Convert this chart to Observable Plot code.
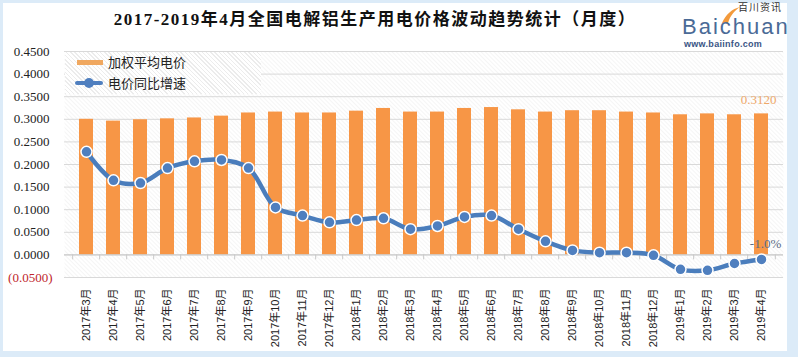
<!DOCTYPE html>
<html>
<head>
<meta charset="utf-8">
<script src="https://cdn.jsdelivr.net/npm/d3@7"></script>
<script src="https://cdn.jsdelivr.net/npm/@observablehq/plot@0.6"></script>
<style>
  html, body { margin: 0; padding: 0; }
  #wrap { position: relative; width: 798px; height: 357px; background: #dcebf8; overflow: hidden; }
  #panel { position: absolute; left: 3px; top: 3px; width: 784px; height: 348px; background: #fff; }
  #chart { position: absolute; left: 0; top: 0; }
  #title { position: absolute; left: 0; width: 750px; top: 8px; text-align: center;
           font-family: "Liberation Serif", "Noto Sans CJK SC", serif; font-weight: bold;
           font-size: 17px; letter-spacing: 1.5px; line-height: 24px; color: #111; }
  #legend { position: absolute; left: 65px; top: 52px; width: 196px; height: 42px;
            background: repeating-linear-gradient(45deg, #ececec 0 1px, #fff 1px 3px);
            font-family: "Noto Sans CJK SC", sans-serif; font-size: 13px; color: #222; }
  .row { position: absolute; left: 10px; height: 20px; line-height: 20px; display: flex; align-items: center; }
  .sw { position: relative; width: 28px; height: 20px; margin-right: 5px; }
  .sw .bar { position: absolute; left: 2px; right: 0; top: 8px; height: 5px; background: #f0a860; }
  .sw .ln { position: absolute; left: 0; right: 0; top: 8px; height: 4px; background: #4f7fbf; border-radius: 2px; }
  .sw .dt { position: absolute; left: 9px; top: 5px; width: 10px; height: 10px; border-radius: 50%; background: #4f7fbf; }
  #logo { position: absolute; left: 680px; top: 0; width: 118px; height: 50px; }
  #logo .cn { position: absolute; left: 58px; top: 0px; line-height: 14.5px; font-family: "Noto Sans CJK SC", sans-serif; font-size: 10px; color: #333; letter-spacing: 1px; }
  #logo .en { position: absolute; left: 2px; top: 14.5px; line-height: 24.5px; font-family: "Liberation Sans", sans-serif; font-size: 22px; letter-spacing: 2px; color: #4a6a96; }
  #logo .url { position: absolute; left: 4px; top: 39px; line-height: 10px; font-family: "Liberation Sans", sans-serif; font-weight: bold; font-size: 9px; letter-spacing: 0.3px; color: #3a5585; }
  #logo svg { position: absolute; left: 0; top: 0; }
</style>
</head>
<body>
<div id="wrap">
  <div id="panel"></div>
  <div id="chart"></div>
  <div id="title"></div>
  <div id="legend"></div>
  <div id="logo">
    <svg width="118" height="50"><path d="M42,23 C46,14 52,9 60,7 C54,11 50,16 48,23 Z" fill="#f39a3c"/></svg>
    <div class="cn">百川资讯</div>
    <div class="en">Baichuan</div>
    <div class="url">www.baiinfo.com</div>
  </div>
</div>
<script>
const titleText = "2017-2019年4月全国电解铝生产用电价格波动趋势统计（月度）";
const months = ["2017年3月","2017年4月","2017年5月","2017年6月","2017年7月","2017年8月","2017年9月","2017年10月","2017年11月","2017年12月",
  "2018年1月","2018年2月","2018年3月","2018年4月","2018年5月","2018年6月","2018年7月","2018年8月","2018年9月","2018年10月","2018年11月","2018年12月",
  "2019年1月","2019年2月","2019年3月","2019年4月"];
const price = [0.300,0.296,0.299,0.301,0.303,0.307,0.314,0.316,0.314,0.314,0.318,0.324,0.316,0.316,0.324,0.326,0.321,0.316,0.319,0.319,0.316,0.314,0.310,0.312,0.310,0.312];
const growth = [0.228,0.165,0.159,0.192,0.207,0.210,0.192,0.105,0.087,0.072,0.077,0.081,0.057,0.064,0.084,0.087,0.057,0.030,0.010,0.005,0.005,-0.001,-0.032,-0.034,-0.019,-0.010];
const yTicks = [-0.05,0,0.05,0.10,0.15,0.20,0.25,0.30,0.35,0.40,0.45];
const seriesNames = ["加权平均电价","电价同比增速"];
const lastPriceLabel = "0.3120";
const lastGrowthLabel = "-1.0%";

document.getElementById("title").textContent = titleText;
document.getElementById("legend").innerHTML =
  `<div class="row" style="top:0px"><div class="sw"><div class="bar"></div></div>${seriesNames[0]}</div>` +
  `<div class="row" style="top:21px"><div class="sw"><div class="ln"></div><div class="dt"></div></div>${seriesNames[1]}</div>`;

const data = months.map((m, i) => ({month: m, price: price[i], growth: growth[i]}));
const W = 798, H = 357, ML = 64, MR = 15, MT = 51, MB = 80;
const half = (W - ML - MR) / months.length / 2;
const last = data[data.length - 1];
const fmt4 = d3.format(".4f");
const serif = "Liberation Serif, serif";
const sans = "Liberation Sans, Noto Sans CJK SC, sans-serif";

const svg = Plot.plot({
  width: W, height: H,
  marginLeft: ML, marginRight: MR, marginTop: MT, marginBottom: MB,
  style: {background: "transparent", overflow: "visible"},
  x: {type: "band", domain: months, paddingInner: 0.49, paddingOuter: 0.245, axis: null},
  y: {domain: [-0.05, 0.45], axis: null},
  marks: [
    Plot.frame({fill: "url(#hatch)"}),
    Plot.gridY(yTicks, {stroke: "#d9d9d9", strokeOpacity: 1, strokeWidth: 1}),
    Plot.barY(data, {x: "month", y: "price", fill: "#f79646"}),
    Plot.ruleY([0], {stroke: "#c8c8c8", strokeWidth: 1}),
    Plot.ruleX(months, {x: d => d, y1: 0, y2: -0.011, dx: -half, stroke: "#c8c8c8"}),
    Plot.ruleX([months[months.length - 1]], {x: d => d, y1: 0, y2: -0.011, dx: half, stroke: "#c8c8c8"}),
    Plot.line(data, {x: "month", y: "growth", curve: "catmull-rom", stroke: "#4a7dbc", strokeWidth: 4.5}),
    Plot.dot(data, {x: "month", y: "growth", r: 5.5, fill: "#4f7fbf", stroke: "#fff", strokeWidth: 1.5}),
    Plot.text([last], {x: "month", y: "price", text: () => lastPriceLabel, dy: -14, dx: -3, fill: "#eea869", fontFamily: serif, fontSize: 13}),
    Plot.text([last], {x: "month", y: "growth", text: () => lastGrowthLabel, dy: -16, dx: 4, fill: "#5b6c86", fontFamily: serif, fontSize: 13}),
    Plot.axisX({tickSize: 0, tickRotate: -90, tickPadding: 11, fontSize: 11, fontFamily: sans, fill: "#222", label: null}),
    Plot.axisY(yTicks.filter(d => d >= 0), {tickSize: 0, tickPadding: 15, tickFormat: fmt4, fontSize: 13, fontFamily: serif, fill: "#222", label: null}),
    Plot.axisY(yTicks.filter(d => d < 0), {tickSize: 0, tickPadding: 12, tickFormat: d => `(${fmt4(-d)})`, fontSize: 13, fontFamily: serif, fill: "#c0262c", label: null})
  ]
});

const NS = "http://www.w3.org/2000/svg";
const defs = document.createElementNS(NS, "defs");
const pat = document.createElementNS(NS, "pattern");
pat.setAttribute("id", "hatch");
pat.setAttribute("patternUnits", "userSpaceOnUse");
pat.setAttribute("width", "3");
pat.setAttribute("height", "3");
pat.setAttribute("patternTransform", "rotate(-45)");
const bg = document.createElementNS(NS, "rect");
bg.setAttribute("width", "3"); bg.setAttribute("height", "3"); bg.setAttribute("fill", "#fff");
const ln = document.createElementNS(NS, "line");
ln.setAttribute("x1", "0"); ln.setAttribute("y1", "0"); ln.setAttribute("x2", "0"); ln.setAttribute("y2", "3");
ln.setAttribute("stroke", "#ececec"); ln.setAttribute("stroke-width", "1");
pat.appendChild(bg); pat.appendChild(ln); defs.appendChild(pat);
svg.insertBefore(defs, svg.firstChild);
document.getElementById("chart").appendChild(svg);
</script>
</body>
</html>
